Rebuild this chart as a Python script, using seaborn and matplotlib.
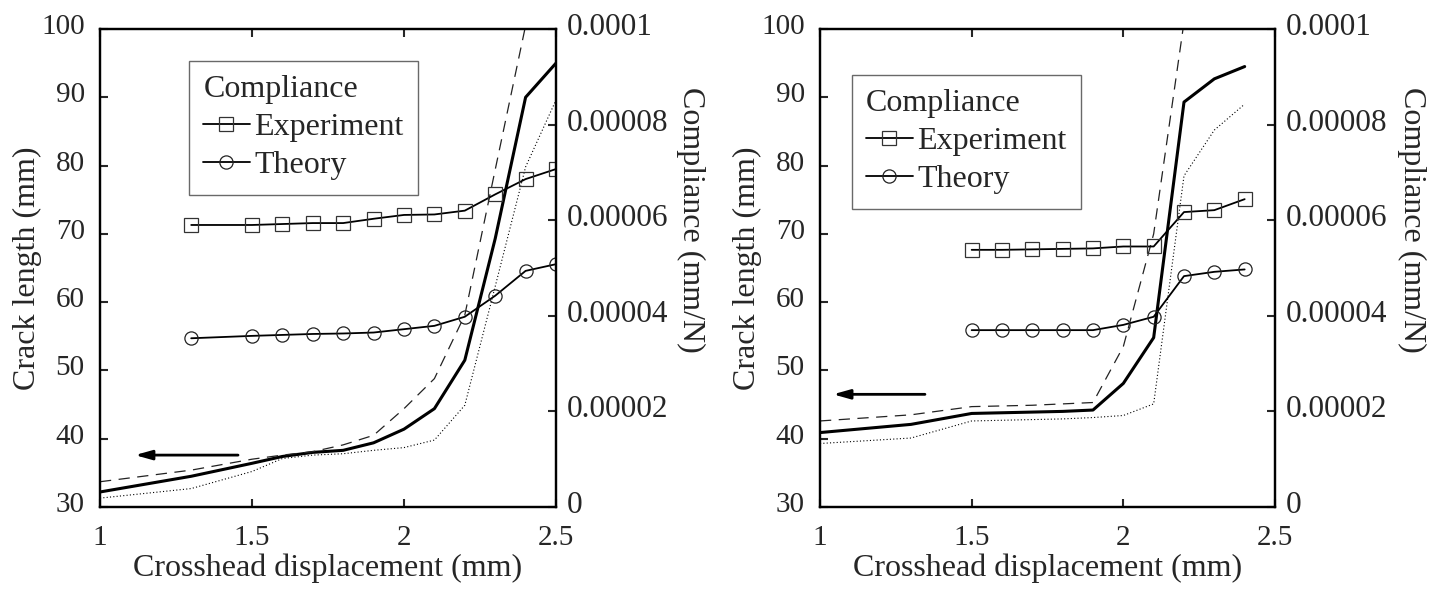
import matplotlib
matplotlib.use("Agg")
import matplotlib.pyplot as plt
import matplotlib.transforms as mtransforms
import seaborn as sns
from matplotlib.lines import Line2D

# ---------------- data ----------------
# Left panel: crack length curves (mm)
xL_crack = [1.0, 1.3, 1.5, 1.6, 1.7, 1.8, 1.9, 2.0, 2.1, 2.2, 2.3, 2.4, 2.5]
L_solid = [32.2, 34.5, 36.4, 37.4, 38.0, 38.3, 39.4, 41.4, 44.4, 51.5, 69.3, 90.0, 95.0]
L_dashed = [33.7, 35.4, 37.0, 37.6, 38.1, 39.1, 40.5, 44.4, 48.8, 58.1, 79.4, 100.5, 112.0]
L_dotted = [31.3, 32.7, 35.2, 37.1, 37.6, 37.8, 38.3, 38.7, 39.8, 44.9, 62.3, 79.8, 89.6]
# Left panel: compliance (mm/N)
xL_comp = [1.3, 1.5, 1.6, 1.7, 1.8, 1.9, 2.0, 2.1, 2.2, 2.3, 2.4, 2.5]
L_experiment = [5.90e-5, 5.90e-5, 5.92e-5, 5.94e-5, 5.94e-5, 6.03e-5, 6.11e-5, 6.12e-5, 6.20e-5, 6.54e-5, 6.86e-5, 7.07e-5]
L_theory = [3.53e-5, 3.58e-5, 3.60e-5, 3.62e-5, 3.63e-5, 3.65e-5, 3.72e-5, 3.79e-5, 3.98e-5, 4.42e-5, 4.94e-5, 5.08e-5]

# Right panel: crack length curves (mm)
xR_crack = [1.0, 1.3, 1.5, 1.6, 1.7, 1.8, 1.9, 2.0, 2.1, 2.2, 2.3, 2.4]
R_solid = [40.9, 42.1, 43.7, 43.8, 43.9, 44.0, 44.2, 48.1, 54.8, 89.3, 92.7, 94.5]
R_dotted = [39.3, 40.1, 42.6, 42.7, 42.8, 42.9, 43.1, 43.4, 45.1, 78.5, 85.2, 89.0]
xR_dashed = [1.0, 1.3, 1.5, 1.6, 1.7, 1.8, 1.9, 2.0, 2.1, 2.2]
R_dashed = [42.6, 43.5, 44.7, 44.8, 44.9, 45.1, 45.3, 53.5, 70.0, 101.0]
# Right panel: compliance (mm/N)
xR_comp = [1.5, 1.6, 1.7, 1.8, 1.9, 2.0, 2.1, 2.2, 2.3, 2.4]
R_experiment = [5.38e-5, 5.38e-5, 5.39e-5, 5.40e-5, 5.41e-5, 5.45e-5, 5.45e-5, 6.17e-5, 6.21e-5, 6.44e-5]
R_theory = [3.70e-5, 3.70e-5, 3.70e-5, 3.70e-5, 3.70e-5, 3.81e-5, 3.98e-5, 4.83e-5, 4.92e-5, 4.97e-5]

# ticks / labels
x_ticks = [1.0, 1.5, 2.0, 2.5]
x_tick_labels = ["1", "1.5", "2", "2.5"]
crack_ticks = [30, 40, 50, 60, 70, 80, 90, 100]
comp_ticks = [0, 2e-5, 4e-5, 6e-5, 8e-5, 1e-4]
comp_tick_labels = ["0", "0.00002", "0.00004", "0.00006", "0.00008", "0.0001"]
xlabel = "Crosshead displacement (mm)"
ylabel_left = "Crack length (mm)"
ylabel_right = "Compliance (mm/N)"
legend_title = "Compliance"
legend_labels = ["Experiment", "Theory"]

# ---------------- style ----------------
sns.set_style("ticks")
plt.rcParams["font.family"] = ["Liberation Serif", "DejaVu Serif"]

W, H = 1437, 591
fig = plt.figure(figsize=(W / 100, H / 100), dpi=100)

TICK_FS = 21
COMP_TICK_FS = 22.5
LABEL_FS = 23
LEG_FS = 23
up = mtransforms.ScaledTranslation(0, 5 / 100, fig.dpi_scale_trans)


def panel(rect, xc, solid, xd, dashed, dotted, xcomp, exp, theo, leg_anchor, arrow, ylab_x, comp_lab_x):
    ax = fig.add_axes(rect)
    sns.lineplot(x=xc, y=solid, ax=ax, color="black", linewidth=2.2, sort=False)
    sns.lineplot(x=xd, y=dashed, ax=ax, color="#222222", linewidth=0.9,
                 linestyle=(0, (9, 6)), sort=False)
    sns.lineplot(x=xc, y=dotted, ax=ax, color="black", linewidth=0.8,
                 linestyle=(0, (1, 2)), sort=False)
    ax.set_xlim(1, 2.5)
    ax.set_ylim(30, 100)
    ax.set_xticks(x_ticks)
    ax.set_xticklabels(x_tick_labels)
    ax.set_yticks(crack_ticks)
    ax.set_yticklabels([str(t) for t in crack_ticks])
    ax.tick_params(axis="both", direction="in", length=6, width=1.5, labelsize=TICK_FS,
                   top=True, right=False)
    ax.tick_params(axis="x", pad=13)
    ax.tick_params(axis="y", pad=11)
    for lab in ax.get_yticklabels():
        lab.set_transform(lab.get_transform() + up)
    ax.set_xlabel(xlabel, fontsize=LABEL_FS, labelpad=2)
    ax.set_ylabel(ylabel_left, fontsize=LABEL_FS, va="center")
    ax.yaxis.set_label_coords(ylab_x, 0.5)

    ax.annotate("", xy=(arrow[1], arrow[2]), xytext=(arrow[0], arrow[2]),
                arrowprops=dict(arrowstyle="-|>,head_length=1.0,head_width=0.28",
                                color="black", lw=2.0, shrinkA=0, shrinkB=0))

    ax2 = ax.twinx()
    sns.lineplot(x=xcomp, y=exp, ax=ax2, color="black", linewidth=1.3, marker="s",
                 markersize=9.5, markerfacecolor="none", markeredgecolor="#333333",
                 markeredgewidth=0.9, sort=False)
    sns.lineplot(x=xcomp, y=theo, ax=ax2, color="black", linewidth=1.3, marker="o",
                 markersize=9.5, markerfacecolor="none", markeredgecolor="#222222",
                 markeredgewidth=0.9, sort=False)
    ax2.set_ylim(0, 1e-4)
    ax2.set_yticks(comp_ticks)
    ax2.set_yticklabels(comp_tick_labels)
    ax2.tick_params(axis="y", direction="in", length=6, width=1.5, labelsize=COMP_TICK_FS, pad=8)
    for lab in ax2.get_yticklabels():
        lab.set_transform(lab.get_transform() + up)
    ax2.set_ylabel(ylabel_right, fontsize=LABEL_FS, rotation=270, va="center")
    ax2.yaxis.set_label_coords(comp_lab_x, 0.6)

    for a in (ax, ax2):
        for s in a.spines.values():
            s.set_linewidth(1.6)
            s.set_color("black")

    handles = [
        Line2D([], [], color="black", linewidth=1.3, marker="s", markersize=9.5,
               markerfacecolor="none", markeredgecolor="#333333", markeredgewidth=0.9),
        Line2D([], [], color="black", linewidth=1.3, marker="o", markersize=9.5,
               markerfacecolor="none", markeredgecolor="#222222", markeredgewidth=0.9),
    ]
    leg = ax2.legend(handles, legend_labels, title=legend_title, loc="upper left",
                     bbox_to_anchor=leg_anchor, borderaxespad=0, fontsize=LEG_FS,
                     title_fontsize=LEG_FS, frameon=True, fancybox=False,
                     handlelength=1.45, handletextpad=0.15, labelspacing=0.27,
                     borderpad=0.45, alignment="left")
    leg.get_frame().set_edgecolor("#444444")
    leg.get_frame().set_linewidth(1.0)
    return ax, ax2


panel([100 / W, 84 / H, 456 / W, 478 / H], xL_crack, L_solid, xL_crack, L_dashed, L_dotted,
      xL_comp, L_experiment, L_theory, (0.195, 0.933), (1.454, 1.115, 37.6), -0.158, 1.295)
panel([820 / W, 84 / H, 455 / W, 478 / H], xR_crack, R_solid, xR_dashed, R_dashed, R_dotted,
      xR_comp, R_experiment, R_theory, (0.07, 0.904), (1.346, 1.043, 46.5), -0.16, 1.3)

fig.savefig("out.png", dpi=100)
